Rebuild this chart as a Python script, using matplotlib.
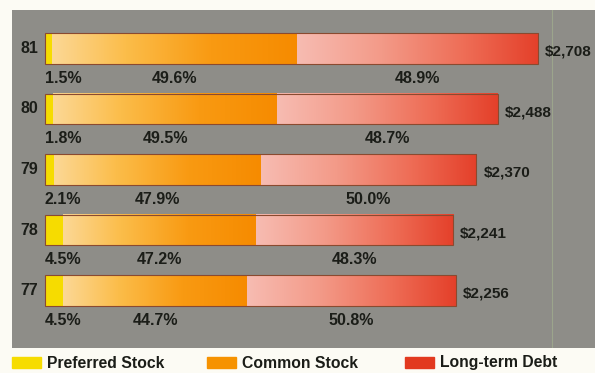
import numpy as np
import matplotlib
matplotlib.use("Agg")
import matplotlib.pyplot as plt
from matplotlib.colors import LinearSegmentedColormap
from matplotlib.patches import Rectangle

plt.rcParams['font.family'] = ['Liberation Sans', 'DejaVu Sans']
plt.rcParams['font.weight'] = 'bold'

# capitalization by year, $ millions, with shares in percent
years = ['81', '80', '79', '78', '77']
totals = [2708, 2488, 2370, 2241, 2256]
preferred_pct = [1.5, 1.8, 2.1, 4.5, 4.5]
common_pct = [49.6, 49.5, 47.9, 47.2, 44.7]
debt_pct = [48.9, 48.7, 50.0, 48.3, 50.8]
legend_labels = ['Preferred Stock', 'Common Stock', 'Long-term Debt']

panel_gray = '#8e8d88'
paper = '#fcfbf4'
ink = '#1b1d18'
yellow = '#f6dc00'
orange_cmap = LinearSegmentedColormap.from_list(
    'orange', [(0, '#fcd896'), (0.3, '#fbbd4a'), (0.65, '#f99a12'), (1, '#f68b00')])
red_cmap = LinearSegmentedColormap.from_list(
    'red', [(0, '#f7bcb2'), (0.35, '#f39a88'), (0.7, '#ee6c55'), (1, '#e4402a')])

fig = plt.figure(figsize=(5.95, 3.73), dpi=100, facecolor=paper)
ax = fig.add_axes([12 / 595, 25 / 373, 583 / 595, 338 / 373])
ax.set_facecolor(panel_gray)

bar_h = 0.51
ypos = np.arange(len(years))[::-1]  # 81 on top


def gradient(x0, x1, y, cmap):
    grad = np.linspace(0, 1, 256)[None, :]
    ax.imshow(grad, cmap=cmap, extent=(x0, x1, y - bar_h / 2, y + bar_h / 2),
              aspect='auto', interpolation='bilinear', zorder=2)


for y, yr, tot, pp, cp, dp in zip(ypos, years, totals, preferred_pct,
                                   common_pct, debt_pct):
    w_p = tot * pp / 100
    w_c = tot * cp / 100
    w_d = tot * dp / 100
    ax.barh(y, w_p, left=0, height=bar_h, color=yellow, zorder=2)
    gradient(w_p, w_p + w_c, y, orange_cmap)
    gradient(w_p + w_c, w_p + w_c + w_d, y, red_cmap)
    ax.barh(y, tot, left=0, height=bar_h, facecolor='none',
            edgecolor='#8a4a30', linewidth=0.8, zorder=3)

    ax.text(-35, y, yr, ha='right', va='center', fontsize=11.5, color=ink)
    ax.text(tot + 40, y - 0.05, f'${tot:,}', ha='left', va='center',
            fontsize=11, color=ink)
    ly = y - 0.49
    ax.text(0, ly, f'{pp}%', ha='left', va='center', fontsize=11.5, color=ink)
    ax.text(w_p + w_c / 2, ly, f'{cp}%', ha='center', va='center',
            fontsize=11.5, color=ink)
    ax.text(w_p + w_c + w_d / 2, ly, f'{dp}%', ha='center', va='center',
            fontsize=11.5, color=ink)

# faint fold line on the panel
ax.axvline(2786, color='#a3b08f', linewidth=0.8, alpha=0.7, zorder=1)

ax.set_xlim(-181, 3022)
ax.set_ylim(-0.95, 4.636)
for s in ax.spines.values():
    s.set_visible(False)
ax.set_xticks([])
ax.set_yticks([])

# legend along the bottom
legend_colors = [yellow, '#f69200', '#e2391f']
legend_x = [12, 207, 405]
for lx, col, lab in zip(legend_x, legend_colors, legend_labels):
    fig.patches.append(Rectangle((lx / 595, 1 - 368 / 373), 29 / 595, 11 / 373,
                                 transform=fig.transFigure, color=col))
    fig.text((lx + 35) / 595, 1 - 363 / 373, lab, ha='left', va='center',
             fontsize=11.3, color=ink)

fig.savefig('out.png', dpi=100, facecolor=paper)
